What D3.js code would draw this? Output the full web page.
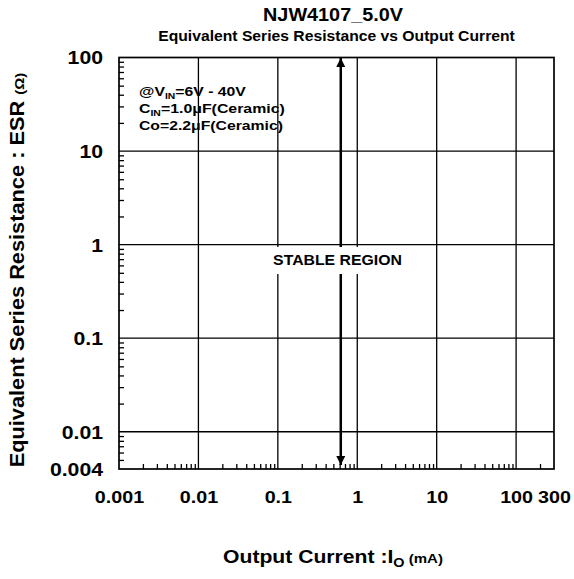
<!DOCTYPE html>
<html><head><meta charset="utf-8">
<script src="https://cdn.jsdelivr.net/npm/d3@7"></script>
<style>
body{margin:0;background:#fff;}
text{font-family:"Liberation Sans",Arial,sans-serif;font-weight:bold;fill:#000;}
</style></head>
<body><svg id="c" width="574" height="579"></svg>
<script>
const title = "NJW4107_5.0V";
const subtitle = "Equivalent Series Resistance vs Output Current";
const xTicks = [0.001, 0.01, 0.1, 1, 10, 100, 300];
const xTickLabels = ["0.001", "0.01", "0.1", "1", "10", "100", "300"];
const yTicks = [0.004, 0.01, 0.1, 1, 10, 100];
const yTickLabels = ["0.004", "0.01", "0.1", "1", "10", "100"];
const xDomain = [0.001, 300];
const yDomain = [0.004, 100];
const stableCurrent = [0.62];          // mA, boundary arrow position
const stableEsr = [0.004, 100];        // ESR span of the arrow
const stableLabel = "STABLE REGION";
const labelEsr = [0.55];               // ESR where the label sits

const svg = d3.select("#c");
const L = 119, R = 554, T = 57.5, B = 469;
const x = d3.scaleLog().domain(xDomain).range([L, R]);
const y = d3.scaleLog().domain(yDomain).range([B, T]);

// fit text horizontally to a target width
function fit(sel, x0, y0, width, rot) {
  const w = sel.node().getComputedTextLength();
  const s = width / w;
  sel.attr("x", 0).attr("y", 0)
    .attr("transform", `translate(${x0},${y0})${rot ? " rotate(" + rot + ")" : ""} scale(${s},1)`);
  return sel;
}

// minor ticks
const xMinor = [], yMinor = [];
for (let e = -3; e <= 2; e++) for (let m = 2; m <= 9; m++) {
  const v = m * Math.pow(10, e);
  if (v > xDomain[0] && v < xDomain[1]) xMinor.push(v);
}
for (let e = -3; e <= 1; e++) for (let m = 2; m <= 9; m++) {
  const v = m * Math.pow(10, e);
  if (v > yDomain[0] && v < yDomain[1]) yMinor.push(v);
}

const g = svg.append("g");
const gridX = xTicks.filter(v => v > xDomain[0] && v < xDomain[1]);
const gridY = yTicks.filter(v => v > yDomain[0] && v < yDomain[1]);
g.selectAll(".gx").data(gridX).join("line")
  .attr("x1", d => x(d)).attr("x2", d => x(d)).attr("y1", T).attr("y2", B)
  .attr("stroke", "#000").attr("stroke-width", 1.3);
g.selectAll(".gy").data(gridY).join("line")
  .attr("y1", d => y(d)).attr("y2", d => y(d)).attr("x1", L).attr("x2", R)
  .attr("stroke", "#000").attr("stroke-width", 1.3);

const xAxisMinor = d3.axisTop(x).tickValues(xMinor).tickSize(5).tickFormat("");
const yAxisMinor = d3.axisRight(y).tickValues(yMinor).tickSize(5).tickFormat("");
g.append("g").attr("transform", `translate(0,${B})`).call(xAxisMinor)
  .call(s => s.select(".domain").remove())
  .selectAll("line").attr("stroke", "#000").attr("stroke-width", 1.3);
g.append("g").attr("transform", `translate(${L},0)`).call(yAxisMinor)
  .call(s => s.select(".domain").remove())
  .selectAll("line").attr("stroke", "#000").attr("stroke-width", 1.3);

g.append("rect").attr("x", L).attr("y", T).attr("width", R - L).attr("height", B - T)
  .attr("fill", "none").attr("stroke", "#000").attr("stroke-width", 1.7);

// tick labels
const xAxis = d3.axisBottom(x).tickValues(xTicks).tickSize(0).tickPadding(0)
  .tickFormat((d, i) => xTickLabels[i]);
svg.append("g").attr("transform", `translate(0,${B + 34})`).call(xAxis)
  .call(s => s.select(".domain").remove())
  .selectAll("text").attr("font-size", 17).attr("dy", 0).attr("y", 0)
  .attr("transform", "scale(1.16,1)")
  .attr("font-family", "Liberation Sans, Arial, sans-serif").attr("font-weight", "bold").attr("fill", "#000");
const yAxis = d3.axisLeft(y).tickValues(yTicks).tickSize(0).tickPadding(0)
  .tickFormat((d, i) => yTickLabels[i]);
svg.append("g").attr("transform", `translate(103,0)`).call(yAxis)
  .call(s => s.select(".domain").remove())
  .selectAll("text").attr("font-size", 18).attr("dy", "0.36em")
  .attr("transform", "scale(1.18,1)")
  .attr("font-family", "Liberation Sans, Arial, sans-serif").attr("font-weight", "bold").attr("fill", "#000");

// arrow
const defs = svg.append("defs");
defs.append("marker").attr("id", "ah").attr("viewBox", "0 0 10 10")
  .attr("refX", 10).attr("refY", 5).attr("markerWidth", 3.6).attr("markerHeight", 3.6)
  .attr("markerUnits", "strokeWidth").attr("orient", "auto-start-reverse")
  .append("path").attr("d", "M0,0L10,5L0,10z").attr("fill", "#000");
svg.selectAll(".arrow").data(stableCurrent).join("line")
  .attr("x1", d => x(d)).attr("x2", d => x(d))
  .attr("y1", y(stableEsr[0]) - 4).attr("y2", y(stableEsr[1]) + 0.5)
  .attr("stroke", "#000").attr("stroke-width", 2.5)
  .attr("marker-start", "url(#ah)").attr("marker-end", "url(#ah)");

// stable region label
const ly = y(labelEsr[0]);
svg.append("rect").attr("x", 262).attr("y", 247).attr("width", 152).attr("height", 27).attr("fill", "#fff");
fit(svg.append("text").attr("text-anchor", "middle").attr("font-size", 14.5).text(stableLabel),
  337.5, 265, 129);

// conditions text
const cond = svg.append("g");
const t1 = cond.append("text").attr("font-size", 13);
t1.append("tspan").text("@V");
t1.append("tspan").attr("font-size", 8.5).attr("dy", 3).text("IN");
t1.append("tspan").attr("dy", -3).text("=6V - 40V");
fit(t1, 139, 96, 107);
const t2 = cond.append("text").attr("font-size", 13);
t2.append("tspan").text("C");
t2.append("tspan").attr("font-size", 8.5).attr("dy", 3).text("IN");
t2.append("tspan").attr("dy", -3).text("=1.0μF(Ceramic)");
fit(t2, 139, 113, 146);
fit(cond.append("text").attr("font-size", 13).text("Co=2.2μF(Ceramic)"), 139, 130, 144);

// titles
fit(svg.append("text").attr("text-anchor", "middle").attr("font-size", 18).text(title), 333, 21, 140);
fit(svg.append("text").attr("text-anchor", "middle").attr("font-size", 14).text(subtitle), 336.5, 41, 357);

// axis titles
const xt = svg.append("text").attr("text-anchor", "middle").attr("font-size", 19);
xt.append("tspan").text("Output Current :I");
xt.append("tspan").attr("font-size", 13).attr("dy", 4).text("O");
xt.append("tspan").attr("font-size", 13.5).attr("dy", -4).text(" (mA)");
fit(xt, 333, 563, 220);

const yt = svg.append("text").attr("text-anchor", "middle").attr("font-size", 19.5);
yt.append("tspan").text("Equivalent Series Resistance : ESR ");
yt.append("tspan").attr("font-size", 13.5).text("(Ω)");
fit(yt, 24, 270, 395, -90);
</script></body></html>
